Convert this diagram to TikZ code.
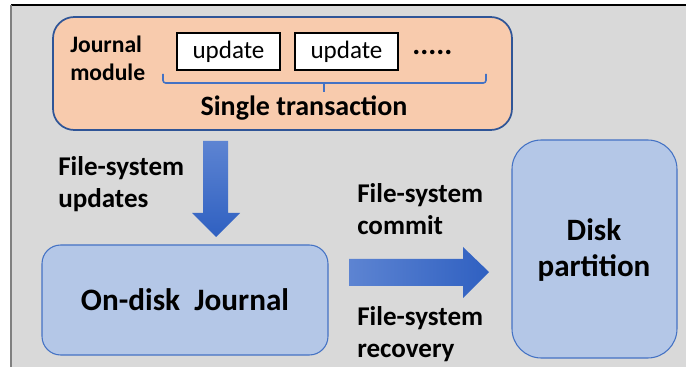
\documentclass[tikz,border=0pt]{standalone}
\usepackage{fontspec}
\setmainfont{Carlito}
\usetikzlibrary{calc}
\definecolor{panelgray}{HTML}{D9D9D9}
\definecolor{peach}{HTML}{F8CBAD}
\definecolor{navyline}{HTML}{2F5597}
\definecolor{paleblue}{HTML}{B4C7E7}
\definecolor{midblue}{HTML}{4472C4}
\definecolor{arrowlight}{HTML}{5D84D2}
\definecolor{arrowdark}{HTML}{2F60C1}
\tikzset{
  modulebox/.style={draw=navyline, line width=1.3pt, fill=peach, rounded corners=16pt},
  updbox/.style={draw=black, line width=0.9pt, fill=white, inner sep=0pt,
    minimum width=77.25pt, minimum height=27.75pt, font=\fontsize{18.8}{20}\selectfont},
  storebox/.style={draw=midblue, line width=0.8pt, fill=paleblue},
  label/.style={font=\bfseries\fontsize{20.3}{24}\selectfont, align=left, inner sep=0pt, anchor=west},
  brace/.style={draw=midblue, line width=1.2pt, rounded corners=2pt},
}
\begin{document}
\begin{tikzpicture}[x=0.75pt,y=-0.75pt]
\useasboundingbox (0,0) rectangle (686,367);
% page background and frame
\fill[white] (0,0) rectangle (686,367);
\fill[panelgray] (11,5) rectangle (686,367);
\draw[black, line width=1.2pt] (11,5) -- (686,5);
\draw[gray, line width=1.5pt] (11,5) -- (11,367);

% journal module
\node[modulebox, minimum width=344.25pt, minimum height=84.75pt] (module) at (282.5,73.5) {};
\node[label, font=\bfseries\fontsize{17.7}{21}\selectfont] (jm) at (70,58) {Journal\\module};
\node[updbox] (u1) at (228.5,51.5) {update};
\node[updbox] (u2) at (346.5,51.5) {update};
\node[font=\bfseries\fontsize{22.5}{24}\selectfont, anchor=west, inner sep=0pt] (dots) at (412,52) {.....};
\draw[brace] (163,74) -- (163,83) -- (486,83) -- (486,74);
\draw[brace] (324,83) -- (324,92);
\node[font=\bfseries\fontsize{21}{24}\selectfont] (single) at (304,108) {Single transaction};

% storage boxes
\node[storebox, rounded corners=14pt, minimum width=214.5pt, minimum height=82.5pt] (journal) at (185,300) {};
\node[font=\bfseries\fontsize{23.4}{26}\selectfont] at (journal.center) {On-disk\ \ Journal};
\node[storebox, rounded corners=22pt, minimum width=123.75pt, minimum height=163.5pt] (disk) at (594.5,249) {};
\node[font=\bfseries\fontsize{23.3}{27}\selectfont, align=center] at (594,250) {Disk\\partition};

% block arrows
\shade[top color=arrowlight, bottom color=arrowdark]
  (203,141) -- (228,141) -- (228,213) -- (240,213) -- (216,237) -- (192,213) -- (203,213) -- cycle;
\shade[left color=arrowlight, right color=arrowdark]
  (349,259) -- (463,259) -- (463,247) -- (489,272) -- (463,298) -- (463,286) -- (349,286) -- cycle;

% arrow captions
\node[label] (upd) at (58,184) {File-system\\updates};
\node[label] (commit) at (357,209) {File-system\\commit};
\node[label] (recov) at (357,334) {File-system\\recovery};
\end{tikzpicture}
\end{document}
